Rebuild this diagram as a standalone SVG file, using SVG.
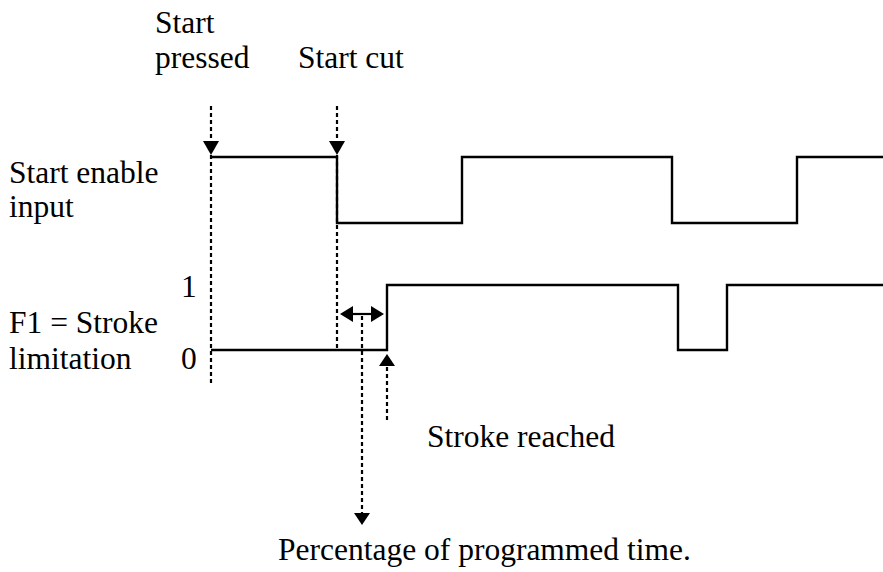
<svg xmlns="http://www.w3.org/2000/svg" width="883" height="572" viewBox="0 0 883 572">
<defs>
<style>
.sig{fill:none;stroke:#000;stroke-width:2.4}
.dash{fill:none;stroke:#000;stroke-width:2.2;stroke-dasharray:4 3}
.solid{fill:none;stroke:#000;stroke-width:2.2}
</style>
</defs>
<g id="labels" font-family="Liberation Serif, Times New Roman, Times, Tinos, DejaVu Serif, serif" font-size="31.5" fill="#000">
<text x="155" y="33">Start</text>
<text x="155" y="68">pressed</text>
<text x="298" y="68">Start cut</text>
<text x="9" y="183">Start enable</text>
<text x="9" y="217">input</text>
<text x="181" y="297">1</text>
<text x="9" y="333">F1 = Stroke</text>
<text x="9" y="369">limitation</text>
<text x="181" y="369">0</text>
<text x="427" y="447">Stroke reached</text>
<text x="278" y="560">Percentage of programmed time.</text>
</g>
<g id="start-enable-signal">
<polyline class="sig" points="211,157 337,157 337,223 462,223 462,157 672,157 672,223 797,223 797,157 883,157"/>
</g>
<g id="f1-signal">
<polyline class="sig" points="211,350 387,350 387,285 678,285 678,350 727,350 727,285 883,285"/>
</g>
<g id="connectors">
<line class="dash" x1="211" y1="106" x2="211" y2="385"/>
<path d="M203,141 L219,141 L211,155 Z" fill="#000"/>
<line class="dash" x1="337" y1="106" x2="337" y2="350"/>
<path d="M329,141 L345,141 L337,155 Z" fill="#000"/>
<line class="solid" x1="352" y1="314" x2="372" y2="314"/>
<path d="M340,314 L353,306 L353,322 Z" fill="#000"/>
<path d="M384,314 L371,306 L371,322 Z" fill="#000"/>
<line class="dash" x1="362" y1="316" x2="362" y2="514"/>
<path d="M354,513 L370,513 L362,525 Z" fill="#000"/>
<path d="M387,354 L379,366 L395,366 Z" fill="#000"/>
<line class="dash" x1="387" y1="367" x2="387" y2="423"/>
</g>
</svg>
